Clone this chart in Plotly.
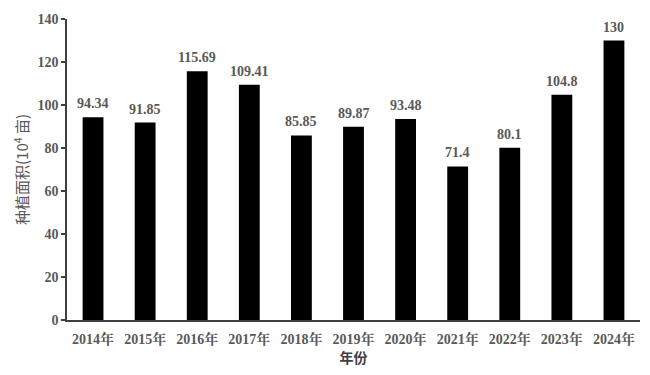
import plotly.graph_objects as go

years = ["2014年", "2015年", "2016年", "2017年", "2018年", "2019年",
         "2020年", "2021年", "2022年", "2023年", "2024年"]
area = [94.34, 91.85, 115.69, 109.41, 85.85, 89.87, 93.48, 71.4, 80.1, 104.8, 130]
labels = ["94.34", "91.85", "115.69", "109.41", "85.85", "89.87",
          "93.48", "71.4", "80.1", "104.8", "130"]
y_ticks = [0, 20, 40, 60, 80, 100, 120, 140]

serif = "Liberation Serif, 'Times New Roman', 'Noto Serif CJK SC', 'Noto Sans CJK SC', serif"
sans = "'Noto Sans CJK SC', 'Noto Sans', sans-serif"
gray = "#595959"

fig = go.Figure(go.Bar(
    x=years, y=area,
    marker=dict(color="black", line=dict(width=0)),
    cliponaxis=False, width=0.4,
))

for yr, v, t in zip(years, area, labels):
    fig.add_annotation(
        x=yr, y=v, text=t, showarrow=False, yanchor="bottom", yshift=4,
        font=dict(family=serif, size=14, color=gray, weight="bold"),
    )

fig.update_layout(
    width=650, height=375,
    margin=dict(l=67, r=10, t=19, b=55),
    plot_bgcolor="white", paper_bgcolor="white",
    showlegend=False,
    xaxis=dict(
        showline=True, linecolor="#404040", linewidth=1.5,
        ticks="", showgrid=False, ticklabelstandoff=5,
        tickfont=dict(family=serif, size=14, color=gray, weight="bold"),
        title=dict(text="年份", font=dict(family=sans, size=14, color="#404040", weight="bold"), standoff=0),
    ),
    yaxis=dict(
        range=[0, 140], tickvals=y_ticks,
        showline=True, linecolor="#404040", linewidth=1.5,
        ticks="outside", ticklen=4, tickcolor="#404040", tickwidth=1.5,
        showgrid=False, zeroline=False,
        tickfont=dict(family=serif, size=14, color=gray, weight="bold"),
        title=dict(text="种植面积(10<sup>4</sup> 亩)", font=dict(family=sans, size=15, color=gray), standoff=5),
    ),
)

fig.write_html("out.html")
